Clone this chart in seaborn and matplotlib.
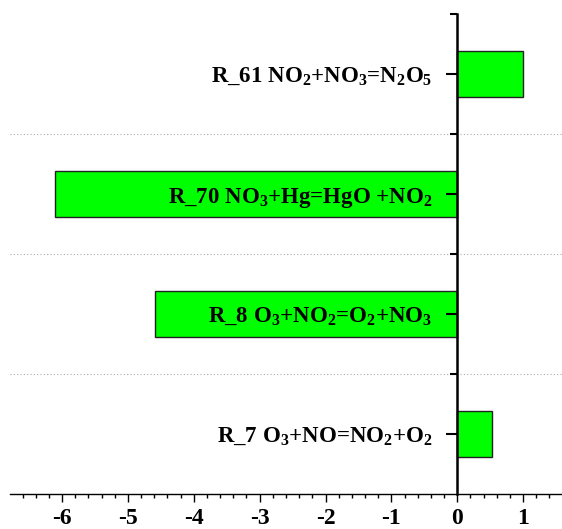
import matplotlib
matplotlib.use("Agg")
import matplotlib.pyplot as plt
from matplotlib.ticker import MultipleLocator, FixedLocator
import seaborn as sns
import pandas as pd

reactions = [
    r"R_61 NO$_2$+NO$_3$=N$_2$O$_5$",
    r"R_70 NO$_3$+Hg=HgO +NO$_2$",
    r"R_8 O$_3$+NO$_2$=O$_2$+NO$_3$",
    r"R_7 O$_3$+NO=NO$_2$+O$_2$",
]
contributions = [1.0, -6.11, -4.59, 0.53]
boundaries = [0.5, 1.5, 2.5]

df = pd.DataFrame({"reaction": reactions, "value": contributions})

sns.set_style("white")
plt.rcParams["font.family"] = ["Liberation Serif", "DejaVu Serif"]
plt.rcParams["font.weight"] = "bold"
plt.rcParams["mathtext.fontset"] = "custom"
plt.rcParams["mathtext.rm"] = "Liberation Serif:bold"
plt.rcParams["mathtext.it"] = "Liberation Serif:bold"
plt.rcParams["mathtext.bf"] = "Liberation Serif:bold"
plt.rcParams["mathtext.default"] = "rm"
plt.rcParams["axes.unicode_minus"] = False

fig = plt.figure(figsize=(5.62, 5.29), dpi=100)
ax = fig.add_axes([10 / 562, 1 - 494 / 529, 1 - 10 / 562, (494 - 14) / 529])

sns.barplot(data=df, x="value", y="reaction", orient="h", color="#00FF00",
            edgecolor="#222222", linewidth=1.0, width=0.39, saturation=1,
            ax=ax, zorder=1)

ax.set_xlim(-6.79, 1.59)
ax.set_ylim(3.5, -0.5)
ax.set_xlabel("")
ax.set_ylabel("")
# axis (ticks and reaction labels) drawn on top of the bars
ax.set_axisbelow(False)

# dotted separators between reactions
for b in boundaries:
    ax.axhline(b, linestyle=(0, (1, 2)), color="#aaaaaa", linewidth=0.8,
               zorder=0.5)

# spines: y axis sits at x = 0
for s in ["top", "right"]:
    ax.spines[s].set_visible(False)
ax.spines["left"].set_position(("data", 0))
ax.spines["left"].set_linewidth(1.8)
ax.spines["bottom"].set_linewidth(1.0)
ax.spines["left"].set_color("black")
ax.spines["bottom"].set_color("black")

# x ticks
ax.xaxis.set_major_locator(MultipleLocator(1))
ax.xaxis.set_minor_locator(MultipleLocator(0.2))
ax.tick_params(axis="x", which="major", direction="out", length=6, width=1,
               color="black", labelsize=17, labelcolor="black", pad=4,
               bottom=True)
ax.tick_params(axis="x", which="minor", direction="out", length=3, width=1,
               color="black", bottom=True)

# y ticks: categories (major) and boundaries (minor)
ax.yaxis.set_minor_locator(FixedLocator([-0.5] + boundaries))
ax.tick_params(axis="y", which="major", direction="out", length=8, width=1.5,
               color="black", labelsize=16.5, labelcolor="black", pad=10,
               left=True)
ax.tick_params(axis="y", which="minor", direction="out", length=5, width=1.5,
               color="black", left=True)
ax.grid(False)

for lab in ax.get_xticklabels() + ax.get_yticklabels():
    lab.set_fontweight("bold")

fig.savefig("out.png", dpi=100)
